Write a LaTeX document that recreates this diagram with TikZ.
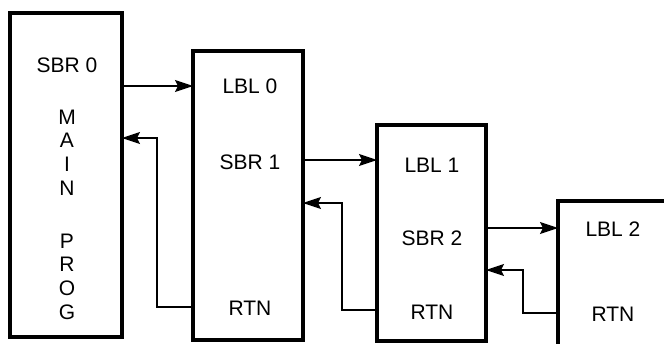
\documentclass[tikz,border=0pt]{standalone}
\usepackage{fontspec}
\setmainfont{Liberation Sans}
\usetikzlibrary{arrows.meta}
\begin{document}
\begin{tikzpicture}[x=1pt,y=-1pt,
  box/.style={draw, line width=3.4pt, outer sep=0pt, inner sep=0pt},
  lbl/.style={font=\fontsize{21}{21}\selectfont, inner sep=0pt},
  link/.style={line width=1.7pt, -{Stealth[length=18pt,width=12pt,inset=3pt]}}]
\useasboundingbox (0,0) rectangle (664,343);
\clip (0,0) rectangle (664,343);
% boxes
\node[box, minimum width=112pt, minimum height=324pt] (b0) at (66,175) {};
\node[box, minimum width=110pt, minimum height=289pt] (b1) at (248,195.5) {};
\node[box, minimum width=109pt, minimum height=216pt] (b2) at (431.5,233) {};
\node[box, minimum width=142pt, minimum height=179pt] (b3) at (629,290.5) {};
% texts box 0
\node[lbl] (s0) at (67,65) {SBR 0};
\node[lbl] (m1) at (67,117) {M};
\node[lbl] (m2) at (67,140) {A};
\node[lbl] (m3) at (67,164) {I};
\node[lbl] (m4) at (67,188) {N};
\node[lbl] (p1) at (67,241) {P};
\node[lbl] (p2) at (67,264) {R};
\node[lbl] (p3) at (67,288) {O};
\node[lbl] (p4) at (67,312) {G};
% box 1
\node[lbl] (l0) at (250,86) {LBL 0};
\node[lbl] (s1) at (250,162) {SBR 1};
\node[lbl] (r1) at (250,308) {RTN};
% box 2
\node[lbl] (l1) at (432,165) {LBL 1};
\node[lbl] (s2) at (432,238) {SBR 2};
\node[lbl] (r2) at (432,312) {RTN};
% box 3
\node[lbl] (l2) at (613,229) {LBL 2};
\node[lbl] (r3) at (613,314) {RTN};
% calls
\draw[link] (b0.east |- 0,86) -- (b1.west |- 0,86);
\draw[link] (b1.east |- 0,160) -- (b2.west |- 0,160);
\draw[link] (b2.east |- 0,228) -- (b3.west |- 0,228);
% returns
\draw[link] (b1.west |- 0,307) -- (157,307) -- (157,138) -- (b0.east |- 0,138);
\draw[link] (b2.west |- 0,310) -- (342,310) -- (342,203) -- (b1.east |- 0,203);
\draw[link] (b3.west |- 0,313) -- (523,313) -- (523,270) -- (b2.east |- 0,270);
\end{tikzpicture}
\end{document}
